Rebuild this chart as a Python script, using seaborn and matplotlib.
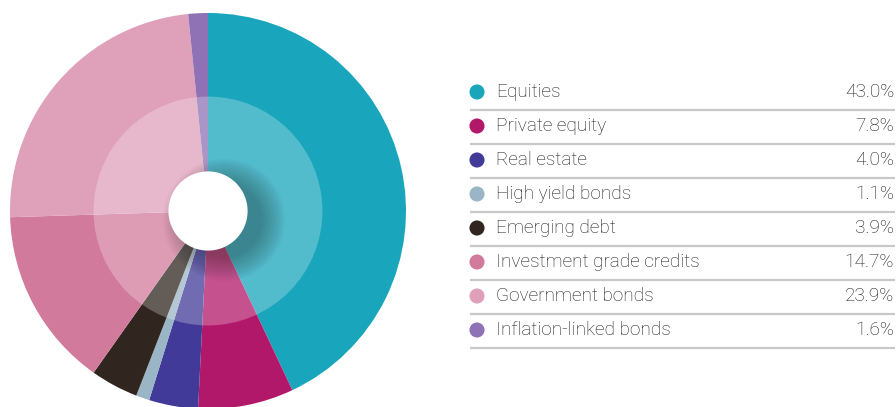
import matplotlib
matplotlib.use("Agg")
import matplotlib.pyplot as plt
import seaborn as sns
import pandas as pd
from matplotlib.patches import Circle

categories = ["Equities", "Private equity", "Real estate", "High yield bonds",
              "Emerging debt", "Investment grade credits", "Government bonds",
              "Inflation-linked bonds"]
values = [43.0, 7.8, 4.0, 1.1, 3.9, 14.7, 23.9, 1.6]
labels = ["43.0%", "7.8%", "4.0%", "1.1%", "3.9%", "14.7%", "23.9%", "1.6%"]
colors = ["#19A5BC", "#B2186A", "#423A98", "#9AB5C6", "#30261F",
          "#D27A9C", "#DFA0BA", "#8E72B5"]

sns.set_theme(style="white")
plt.rcParams['font.family'] = ['Roboto', 'DejaVu Sans']

W, H = 896, 407
fig = plt.figure(figsize=(W / 100, H / 100), dpi=100)

# pie axes: center (208,211) px, radius 198 px
cx, cy, R = 208, 211, 198
ax = fig.add_axes([(cx - R) / W, (H - cy - R) / H, 2 * R / W, 2 * R / H])
ax.pie(values, colors=colors, startangle=90, counterclock=False, radius=1.0,
       wedgeprops=dict(linewidth=0))
ax.set_xlim(-1, 1)
ax.set_ylim(-1, 1)
ax.set_aspect("equal")
ax.axis("off")

# lighter inner ring
ax.add_patch(Circle((0, 0), 0.578, facecolor="white", alpha=0.25, linewidth=0, zorder=3))
# soft shadow to the lower right of the hole
clip = Circle((0, 0), 0.578, transform=ax.transData)
n = 24
for i in range(n):
    r = 0.31 - (0.31 - 0.19) * i / (n - 1)
    c = Circle((0.08, -0.045), r, facecolor="black", alpha=0.011, linewidth=0, zorder=4)
    ax.add_patch(c)
    c.set_clip_path(clip)
ax.add_patch(Circle((0, 0), 0.2, facecolor="white", linewidth=0, zorder=5))

# legend table
lax = fig.add_axes([0, 0, 1, 1], facecolor="none")
row_y = [92 + 34 * i for i in range(len(categories))]
df = pd.DataFrame({"x": [477] * len(categories), "y": row_y, "cat": categories})
sns.scatterplot(data=df, x="x", y="y", hue="cat", palette=colors, s=118,
                linewidth=0, legend=False, ax=lax)
lax.set_xlim(0, W)
lax.set_ylim(H, 0)
lax.axis("off")
for y, cat, lab in zip(row_y, categories, labels):
    lax.text(496, y, cat, ha="left", va="center", fontsize=13.7,
             color="#1A1A1A", fontweight="light")
    lax.text(894, y, lab, ha="right", va="center", fontsize=13.7,
             color="#1A1A1A", fontweight="light")
    lax.plot([470, 895], [y + 17.5, y + 17.5], color="#C8C8C8", lw=1.6,
             solid_capstyle="butt")

fig.savefig("out.png", dpi=100)
